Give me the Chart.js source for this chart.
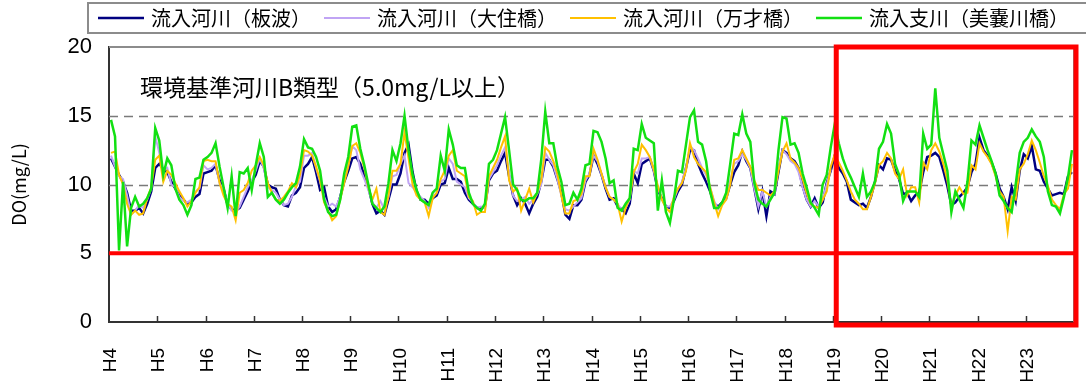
<!DOCTYPE html>
<html lang="ja">
<head>
<meta charset="utf-8">
<title>DO 経年変化</title>
<script src="https://cdn.jsdelivr.net/npm/chart.js@4.4.1/dist/chart.umd.min.js"></script>
<style>
  html, body { margin: 0; padding: 0; background: #fff; }
  #wrap { width: 1086px; height: 381px; }
</style>
</head>
<body>
<div id="wrap"><canvas id="chartDO" width="1086" height="381"></canvas></div>
<script>
/* ---------- data (monthly DO, mg/L) ---------- */
const YEARS = ['H4', 'H5', 'H6', 'H7', 'H8', 'H9', 'H10', 'H11', 'H12', 'H13',
               'H14', 'H15', 'H16', 'H17', 'H18', 'H19', 'H20', 'H21', 'H22', 'H23'];

const Y_MIN = 0;
const Y_MAX = 20;
const Y_STEP = 5;
const STANDARD_B = 5.0;          // 環境基準 B類型
const GUIDE_LINES = [10, 15];
const HIGHLIGHT_FROM = 'H19';

// 流入河川（板波）
const ITANAMI = [
  11.9, 11.3, 10.7, 10.2, 9.4, 8.1, 8.1, 8.3, 7.9, 8.6, 9.5, 11.2,
  11.5, 11.1, 10.9, 10.2, 9.7, 9.2, 8.9, 8.6, 8.7, 9.1, 9.3, 10.8,
  10.9, 11.0, 11.4, 10.3, 9.7, 8.5, 8.2, 8.1, 8.3, 8.9, 9.5, 10.2,
  10.7, 11.7, 11.3, 10.0, 9.8, 9.7, 8.9, 8.5, 8.4, 9.2, 9.4, 9.8,
  11.2, 11.5, 12.0, 10.9, 9.6, 9.8, 8.4, 8.0, 8.2, 9.1, 10.2, 11.0,
  11.9, 12.0, 11.5, 10.7, 9.8, 8.6, 7.9, 8.1, 7.8, 8.9, 10.0, 10.0,
  10.8, 12.3, 12.9, 10.9, 9.5, 8.9, 8.9, 8.6, 9.0, 9.2, 10.0, 10.1,
  11.2, 10.4, 10.4, 10.2, 9.4, 8.9, 8.6, 8.3, 8.3, 8.4, 10.3, 10.8,
  11.0, 11.7, 12.3, 10.6, 9.2, 8.5, 9.0, 8.6, 7.9, 8.6, 9.1, 10.2,
  11.8, 11.8, 11.3, 10.4, 9.4, 7.8, 7.5, 8.5, 8.5, 8.9, 10.2, 10.7,
  12.1, 11.5, 10.7, 9.7, 8.9, 9.0, 8.4, 8.2, 7.9, 8.6, 10.8, 10.1,
  11.5, 11.7, 11.9, 11.0, 9.6, 9.0, 8.4, 8.3, 8.8, 9.5, 10.0, 11.2,
  12.5, 12.5, 11.5, 10.8, 10.2, 9.5, 8.6, 8.4, 8.7, 9.0, 10.0, 10.9,
  11.4, 12.4, 11.7, 11.2, 9.7, 8.2, 9.5, 7.7, 9.5, 9.3, 10.9, 12.5,
  12.3, 11.9, 11.7, 11.2, 9.9, 8.9, 8.4, 9.0, 8.3, 8.7, 10.1, 11.0,
  12.1, 11.2, 10.8, 10.2, 8.9, 8.7, 8.5, 8.6, 8.3, 9.1, 10.2, 11.4,
  11.1, 11.9, 11.8, 11.0, 10.4, 9.3, 9.4, 8.8, 9.2, 9.4, 10.9, 12.0,
  12.1, 12.3, 12.0, 11.0, 9.9, 8.5, 8.7, 9.1, 9.4, 9.8, 10.9, 11.5,
  13.4, 12.5, 12.1, 11.6, 10.8, 9.7, 9.1, 8.2, 9.8, 8.8, 11.0, 12.2,
  11.9, 12.8, 11.1, 11.0, 10.2, 9.7, 9.2, 9.3, 9.4, 9.3, 10.6, 10.9,
];

// 流入河川（大住橋）: no values after H18
const OSUMIBASHI = [
  12.1, 11.3, 10.6, 10.4, 9.2, 7.8, 8.1, 8.5, 8.3, 8.9, 9.7, 13.5,
  12.3, 11.0, 11.2, 10.0, 9.8, 9.1, 8.8, 8.7, 8.9, 9.5, 9.7, 11.4,
  11.1, 11.2, 11.5, 10.1, 9.6, 8.6, 8.1, 8.0, 8.4, 9.1, 9.8, 10.3,
  11.0, 11.9, 11.2, 9.8, 9.6, 9.4, 8.9, 8.5, 8.6, 9.1, 9.9, 10.2,
  12.1, 12.1, 12.3, 11.2, 10.2, 9.1, 8.4, 8.6, 8.4, 9.1, 10.3, 11.4,
  12.8, 12.5, 11.1, 10.4, 9.6, 8.7, 8.3, 8.8, 8.2, 9.1, 10.6, 10.7,
  11.5, 12.1, 10.1, 9.8, 9.4, 9.1, 8.8, 8.3, 9.1, 9.4, 10.2, 10.4,
  11.9, 11.5, 10.2, 10.0, 9.8, 9.0, 8.7, 8.3, 8.4, 8.3, 10.4, 10.9,
  11.4, 12.1, 12.7, 10.9, 9.2, 8.8, 8.9, 9.1, 8.6, 8.9, 9.3, 10.0,
  12.3, 11.8, 11.4, 10.4, 9.2, 8.2, 8.1, 8.4, 8.7, 9.0, 10.3, 10.8,
  12.1, 11.7, 10.7, 9.8, 9.1, 8.9, 8.6, 8.1, 8.3, 8.9, 11.0, 10.8,
  11.9, 11.9, 12.0, 11.0, 9.8, 8.9, 8.4, 8.4, 8.9, 9.7, 10.2, 11.2,
  12.8, 12.5, 11.9, 11.2, 10.7, 9.8, 8.8, 8.2, 8.7, 8.9, 10.3, 11.5,
  11.7, 12.2, 11.8, 11.2, 9.7, 8.4, 9.5, 8.4, 9.1, 9.3, 11.2, 12.5,
  12.2, 11.7, 11.5, 10.9, 9.8, 8.9, 8.4, 8.8, 8.4, 8.9, 10.0, 11.1,
];

// 流入河川（万才橋）
const MANZAIBASHI = [
  12.3, 12.4, 10.7, 10.0, 8.6, 7.8, 8.1, 7.8, 7.9, 9.0, 9.8, 11.8,
  12.1, 10.2, 11.0, 10.7, 10.1, 9.5, 9.0, 8.4, 8.8, 9.4, 9.8, 11.7,
  11.8, 11.7, 11.7, 10.1, 9.2, 8.6, 8.4, 7.4, 9.4, 9.6, 10.1, 11.0,
  11.4, 12.0, 11.4, 10.1, 9.4, 8.9, 8.8, 9.1, 9.5, 10.1, 9.8, 10.7,
  12.5, 12.4, 12.1, 11.3, 10.3, 8.7, 8.1, 7.4, 7.7, 8.9, 10.1, 11.3,
  12.8, 13.0, 12.3, 11.2, 9.8, 8.9, 9.7, 8.0, 7.8, 9.2, 11.0, 11.0,
  11.5, 13.8, 11.9, 10.0, 9.2, 8.9, 8.7, 7.7, 9.0, 9.4, 10.4, 11.0,
  12.1, 12.5, 11.0, 10.8, 10.6, 9.1, 8.8, 7.8, 8.0, 8.0, 10.6, 11.2,
  11.8, 12.7, 13.5, 10.3, 9.5, 9.7, 8.1, 8.9, 9.7, 8.7, 9.4, 10.3,
  12.7, 12.4, 11.7, 10.8, 9.2, 7.9, 7.9, 8.8, 8.9, 9.3, 10.6, 10.6,
  12.6, 11.8, 10.8, 9.8, 9.1, 8.9, 8.6, 7.3, 8.3, 9.0, 10.9, 11.5,
  12.9, 12.5, 12.0, 11.1, 9.9, 8.9, 8.3, 8.0, 9.1, 9.7, 10.1, 11.0,
  13.0, 12.0, 11.5, 11.2, 10.9, 9.8, 8.7, 7.7, 8.5, 8.9, 10.0, 11.8,
  11.9, 12.5, 11.9, 11.3, 10.3, 9.6, 9.6, 9.4, 9.2, 9.5, 11.0, 12.4,
  13.0, 11.9, 11.6, 11.2, 10.4, 9.4, 8.6, 8.4, 8.3, 8.9, 9.5, 11.3,
  12.2, 11.6, 11.0, 10.3, 9.5, 8.9, 8.6, 8.2, 8.2, 9.1, 10.1, 11.4,
  11.7, 12.3, 11.9, 10.8, 10.4, 11.1, 9.2, 9.8, 9.8, 8.7, 11.6, 11.1,
  12.5, 13.0, 12.4, 11.5, 10.3, 8.4, 9.2, 9.8, 9.3, 9.4, 11.4, 11.1,
  13.0, 12.4, 12.0, 11.5, 10.6, 9.5, 9.1, 6.6, 9.1, 8.9, 11.1, 11.5,
  12.2, 13.2, 12.5, 11.6, 10.6, 9.9, 8.9, 8.5, 8.2, 9.3, 9.7, 11.5,
];

// 流入支川（美嚢川橋）
const MINOGAWABASHI = [
  14.7, 13.5, 5.2, 10.2, 5.5, 8.3, 9.1, 8.4, 8.6, 9.0, 9.7, 14.1,
  13.2, 10.7, 11.9, 11.4, 9.7, 8.9, 8.5, 7.8, 8.5, 10.4, 10.5, 11.8,
  12.0, 12.3, 13.0, 11.3, 9.8, 8.3, 10.6, 7.7, 10.9, 10.8, 11.2, 9.6,
  11.4, 13.0, 12.0, 9.1, 9.4, 8.9, 8.6, 8.9, 9.4, 9.8, 10.1, 11.3,
  13.3, 12.7, 12.6, 12.0, 11.0, 8.9, 8.0, 7.7, 7.8, 8.9, 10.8, 12.0,
  14.2, 14.3, 12.6, 11.4, 10.0, 8.6, 8.3, 8.0, 8.4, 10.1, 12.5, 11.7,
  13.0, 15.0, 12.5, 10.7, 9.6, 8.9, 8.7, 8.5, 9.4, 9.7, 12.1, 11.0,
  14.0, 12.9, 11.4, 11.2, 11.2, 9.4, 8.6, 8.3, 8.1, 8.6, 11.5, 11.8,
  12.5, 13.7, 14.9, 12.5, 10.0, 9.6, 8.9, 8.8, 9.0, 9.0, 9.4, 11.8,
  15.3, 13.0, 13.0, 11.3, 10.2, 8.5, 8.6, 9.4, 8.9, 9.7, 11.4, 11.5,
  13.9, 13.8, 13.1, 11.9, 10.1, 10.3, 8.3, 8.1, 8.6, 9.0, 12.6, 12.5,
  14.4, 13.4, 13.2, 13.0, 8.1, 10.3, 8.0, 7.2, 8.9, 11.0, 10.9, 12.9,
  14.9, 15.4, 13.1, 12.9, 11.7, 9.5, 8.3, 8.3, 8.7, 9.4, 11.5, 13.7,
  13.6, 15.1, 13.7, 13.1, 10.1, 8.9, 8.6, 8.4, 8.9, 9.4, 12.5, 14.9,
  14.8, 12.9, 13.0, 12.3, 10.8, 9.8, 8.7, 8.3, 7.8, 10.0, 10.7, 12.7,
  14.4, 13.0, 11.9, 11.1, 10.5, 9.8, 9.1, 10.8, 9.1, 9.5, 10.2, 12.6,
  13.1, 14.4, 13.7, 11.5, 10.7, 8.8, 9.5, 9.5, 9.5, 9.1, 13.7, 12.6,
  12.9, 17.0, 13.4, 12.2, 11.0, 8.0, 9.5, 8.9, 8.3, 10.2, 13.2, 12.9,
  14.3, 13.4, 12.5, 11.7, 10.8, 9.2, 8.8, 8.3, 8.0, 10.0, 12.3, 13.1,
  13.4, 14.0, 13.5, 13.1, 12.0, 9.5, 8.5, 8.4, 7.9, 9.1, 10.5, 12.5,
];

/* ---------- chart ---------- */
const JP_FONT = "'Noto Sans CJK JP', 'Noto Sans', sans-serif";
const NUM_FONT = "'Liberation Sans', Arial, sans-serif";

const months = [];
YEARS.forEach(y => { for (let m = 1; m <= 12; m++) months.push(y + '-' + m); });

// reference lines, frame, red highlight box and the note text
const decorPlugin = {
  id: 'decor',
  beforeDatasetsDraw(chart) {
    const { ctx, chartArea: a, scales: { y } } = chart;
    ctx.save();
    ctx.strokeStyle = '#7a7a7a';
    ctx.lineWidth = 1.5;
    ctx.setLineDash([9, 6]);
    GUIDE_LINES.forEach(v => {
      const py = Math.round(y.getPixelForValue(v)) + 0.5;
      ctx.beginPath();
      ctx.moveTo(a.left, py);
      ctx.lineTo(a.right, py);
      ctx.stroke();
    });
    ctx.restore();

    // plot frame (top / right, grey)
    ctx.save();
    ctx.strokeStyle = '#8c8c8c';
    ctx.lineWidth = 2;
    ctx.beginPath();
    ctx.moveTo(a.left, a.top);
    ctx.lineTo(a.right, a.top);
    ctx.lineTo(a.right, a.bottom);
    ctx.stroke();
    ctx.restore();
  },
  afterDatasetsDraw(chart) {
    const { ctx, chartArea: a, scales: { x, y } } = chart;
    const half = (x.getPixelForValue(1) - x.getPixelForValue(0)) / 2;

    // year ticks, pointing into the plot
    ctx.save();
    ctx.strokeStyle = '#333';
    ctx.lineWidth = 1.5;
    for (let k = 1; k < YEARS.length; k++) {
      const px = Math.round(x.getPixelForValue(k * 12) - half) + 0.5;
      ctx.beginPath();
      ctx.moveTo(px, a.bottom);
      ctx.lineTo(px, a.bottom - 6);
      ctx.stroke();
    }
    ctx.restore();

    // environmental standard line
    ctx.save();
    const sy = y.getPixelForValue(STANDARD_B);
    ctx.strokeStyle = '#ff0000';
    ctx.lineWidth = 4;
    ctx.beginPath();
    ctx.moveTo(a.left, sy);
    ctx.lineTo(a.right, sy);
    ctx.stroke();

    // highlight box
    const bx = x.getPixelForValue(YEARS.indexOf(HIGHLIGHT_FROM) * 12) - half + 3.5;
    ctx.lineWidth = 5;
    ctx.strokeRect(bx, y.getPixelForValue(Y_MAX), a.right + 2 - bx, y.getPixelForValue(Y_MIN) + 3 - y.getPixelForValue(Y_MAX));
    ctx.restore();

    // note
    ctx.save();
    ctx.fillStyle = '#000';
    ctx.font = '23px ' + JP_FONT;
    ctx.textBaseline = 'middle';
    ctx.fillText('環境基準河川B類型（5.0mg/L以上）', a.left + 31, y.getPixelForValue(17.1));
    ctx.restore();
  },
};

// legend row in a framed box above the plot
const legendPlugin = {
  id: 'boxLegend',
  afterDraw(chart, args, opts) {
    const { ctx } = chart;
    ctx.save();
    ctx.strokeStyle = '#8c8c8c';
    ctx.lineWidth = 2;
    ctx.strokeRect(opts.boxLeft, opts.boxTop, chart.width, opts.boxHeight);
    ctx.font = opts.fontSize + 'px ' + JP_FONT;
    ctx.textBaseline = 'middle';
    let cx = opts.startX;
    const cy = opts.boxTop + opts.boxHeight / 2;
    chart.data.datasets.forEach(ds => {
      ctx.strokeStyle = ds.borderColor;
      ctx.lineWidth = ds.borderWidth;
      ctx.beginPath();
      ctx.moveTo(cx, cy);
      ctx.lineTo(cx + opts.sample, cy);
      ctx.stroke();
      ctx.fillStyle = '#000';
      ctx.fillText(ds.label, cx + opts.sample + opts.gap, cy);
      cx += opts.sample + opts.gap + ctx.measureText(ds.label).width + opts.spacing;
    });
    ctx.restore();
  },
};

const line = (label, data, color, width, order) => ({
  label, data,
  borderColor: color,
  backgroundColor: color,
  borderWidth: width,
  pointRadius: 0,
  tension: 0,
  fill: false,
  spanGaps: false,
  order,
});

new Chart(document.getElementById('chartDO'), {
  type: 'line',
  data: {
    labels: months,
    datasets: [
      line('流入河川（板波）', ITANAMI, '#000080', 2.5, 4),
      line('流入河川（大住橋）', OSUMIBASHI, '#c0a4f4', 2, 3),
      line('流入河川（万才橋）', MANZAIBASHI, '#ffc000', 2, 2),
      line('流入支川（美嚢川橋）', MINOGAWABASHI, '#12e012', 2.5, 1),
    ],
  },
  options: {
    responsive: false,
    devicePixelRatio: 1,
    animation: false,
    layout: { padding: { top: 47, right: 12, bottom: 0, left: 0 } },
    plugins: {
      legend: { display: false },
      tooltip: { enabled: false },
      boxLegend: { boxLeft: 88, boxTop: 3, boxHeight: 30, startX: 98, sample: 46, gap: 7, spacing: 13, fontSize: 20 },
    },
    scales: {
      x: {
        type: 'category',
        offset: true,
        grid: { display: false },
        border: { display: true, color: '#333', width: 2 },
        ticks: {
          autoSkip: false,
          minRotation: 90,
          maxRotation: 90,
          padding: 18,
          color: '#000',
          font: { family: NUM_FONT, size: 19 },
          callback: (v, i) => (i % 12 === 0 ? YEARS[i / 12] : ''),
        },
        afterFit: (s) => { s.height = 59; s.paddingLeft = 0; s.paddingRight = 0; },
      },
      y: {
        min: Y_MIN,
        max: Y_MAX,
        grid: { display: false },
        border: { display: true, color: '#333', width: 2 },
        ticks: {
          stepSize: Y_STEP,
          padding: 9,
          color: '#000',
          font: { family: NUM_FONT, size: 22 },
        },
        title: {
          display: true,
          text: 'DO(mg/L)',
          color: '#000',
          font: { family: JP_FONT, size: 18 },
          padding: { top: 8, bottom: 0 },
        },
        afterFit: (s) => { s.width = 109; },
      },
    },
  },
  plugins: [decorPlugin, legendPlugin],
});
</script>
</body>
</html>
